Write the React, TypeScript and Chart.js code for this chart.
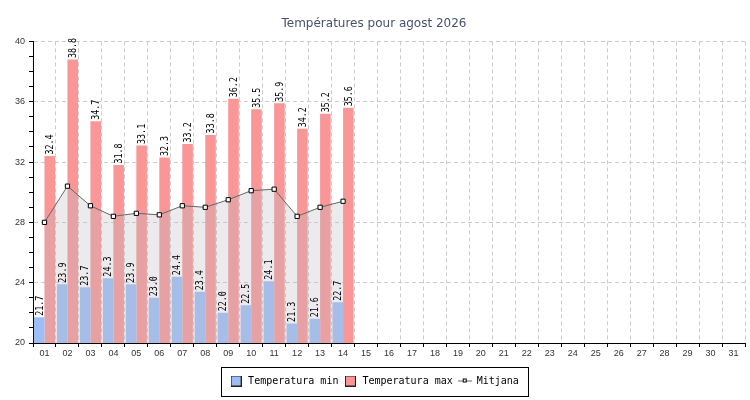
import { useEffect, useRef } from "react";
import { Chart, registerables, Plugin, ChartConfiguration } from "chart.js";

Chart.register(...registerables);

const days = [
  "01", "02", "03", "04", "05", "06", "07", "08", "09", "10", "11",
  "12", "13", "14", "15", "16", "17", "18", "19", "20", "21", "22",
  "23", "24", "25", "26", "27", "28", "29", "30", "31",
];
const minTemps = [21.7, 23.9, 23.7, 24.3, 23.9, 23.0, 24.4, 23.4, 22.0, 22.5, 24.1, 21.3, 21.6, 22.7];
const maxTemps = [32.4, 38.8, 34.7, 31.8, 33.1, 32.3, 33.2, 33.8, 36.2, 35.5, 35.9, 34.2, 35.2, 35.6];
const meanTemps = [28.0, 30.4, 29.1, 28.4, 28.6, 28.5, 29.1, 29.0, 29.5, 30.1, 30.2, 28.4, 29.0, 29.4];
const yMajorTicks = [20, 24, 28, 32, 36, 40];

const BLUE = "#9dbdf7";
const RED = "#fa9696";

// vertical value text above every bar
const barValues: Plugin = {
  id: "barValues",
  afterDatasetsDraw(chart) {
    const ctx = chart.ctx;
    ctx.save();
    ctx.font = "11px 'DejaVu Sans Mono'";
    ctx.fillStyle = "#000";
    ctx.textAlign = "left";
    ctx.textBaseline = "middle";
    chart.data.datasets.forEach((ds, di) => {
      if (ds.type !== "bar") return;
      const meta = chart.getDatasetMeta(di);
      meta.data.forEach((el: any, i) => {
        const v = ds.data[i] as number | null;
        if (v == null) return;
        ctx.save();
        ctx.translate(el.x + 0.5, el.y - 1.5);
        ctx.rotate(-Math.PI / 2);
        ctx.scale(0.76, 1);
        ctx.fillText(v.toFixed(1), 0, 0);
        ctx.restore();
      });
    });
    ctx.restore();
  },
};

// black frame around the legend items
const legendFrame: Plugin = {
  id: "legendFrame",
  afterDraw(chart) {
    const boxes = (chart.legend as any)?.legendHitBoxes as
      | { left: number; top: number; width: number; height: number }[]
      | undefined;
    if (!boxes || !boxes.length) return;
    const left = Math.min(...boxes.map((b) => b.left)) - 8;
    const right = Math.max(...boxes.map((b) => b.left + b.width)) + 9;
    const top = boxes[0].top - 9;
    const bottom = boxes[0].top + boxes[0].height + 10;
    const ctx = chart.ctx;
    ctx.save();
    ctx.strokeStyle = "#000";
    ctx.lineWidth = 1;
    ctx.strokeRect(Math.round(left) + 0.5, Math.round(top) + 0.5, Math.round(right - left), Math.round(bottom - top));
    ctx.restore();
  },
};

function swatch(fill: string) {
  const c = document.createElement("canvas");
  c.width = 11;
  c.height = 11;
  const g = c.getContext("2d")!;
  g.fillStyle = fill;
  g.fillRect(0, 0, 11, 11);
  g.strokeStyle = "#222";
  g.lineWidth = 1;
  g.strokeRect(0.5, 0.5, 10, 10);
  return c;
}

function lineMark() {
  const c = document.createElement("canvas");
  c.width = 14;
  c.height = 11;
  const g = c.getContext("2d")!;
  g.strokeStyle = "#666";
  g.lineWidth = 1;
  g.beginPath();
  g.moveTo(0, 5.5);
  g.lineTo(14, 5.5);
  g.stroke();
  g.fillStyle = "#fff";
  g.fillRect(5, 3, 4, 4);
  g.strokeStyle = "#000";
  g.strokeRect(5.5, 3.5, 3, 3);
  return c;
}

export default function App() {
  const canvasRef = useRef<HTMLCanvasElement | null>(null);
  const chartRef = useRef<Chart | null>(null);

  useEffect(() => {
    document.body.style.margin = "0";
    const canvas = canvasRef.current;
    if (!canvas) return;
    if (chartRef.current) chartRef.current.destroy();

    const marks = [swatch(BLUE), swatch(RED), lineMark()];

    const config: ChartConfiguration = {
      type: "bar",
      data: {
        labels: days,
        datasets: [
          {
            type: "bar",
            label: "Temperatura min",
            data: minTemps,
            backgroundColor: BLUE,
            borderWidth: 0,
            categoryPercentage: 0.92,
            barPercentage: 1,
            order: 1,
          },
          {
            type: "bar",
            label: "Temperatura max",
            data: maxTemps,
            backgroundColor: RED,
            borderWidth: 0,
            categoryPercentage: 0.92,
            barPercentage: 1,
            order: 1,
          },
          {
            type: "line",
            label: "Mitjana",
            data: meanTemps,
            borderColor: "#666",
            borderWidth: 1,
            backgroundColor: "rgba(190,190,195,0.3)",
            fill: "start",
            tension: 0,
            pointStyle: "rect",
            pointRadius: 3,
            pointBorderWidth: 1,
            pointBorderColor: "#000",
            pointBackgroundColor: "#fff",
            order: 0,
          },
        ],
      },
      options: {
        animation: false,
        responsive: true,
        maintainAspectRatio: false,
        layout: { padding: { left: 0, right: 2, top: 0, bottom: 4 } },
        scales: {
          x: {
            offset: true,
            grid: {
              offset: true,
              color: "#cccccc",
              tickColor: "#000",
              tickLength: 4,
            },
            border: { color: "#000", dash: [4, 3] },
            ticks: {
              color: "#333",
              font: { family: "'Liberation Sans'", size: 9 },
              padding: 1,
              maxRotation: 0,
              autoSkip: false,
            },
            afterFit: (scale) => {
              scale.height = 28;
            },
          },
          y: {
            min: 20,
            max: 40,
            grid: {
              color: (c) => (yMajorTicks.includes(c.tick?.value) ? "#cccccc" : "rgba(0,0,0,0)"),
              tickColor: "#000",
              tickLength: 4,
            },
            border: { color: "#000", dash: [4, 3] },
            ticks: {
              stepSize: 1,
              autoSkip: false,
              color: "#333",
              font: { family: "'Liberation Sans'", size: 9 },
              padding: 4,
              callback: (v) => (yMajorTicks.includes(Number(v)) ? String(v) : ""),
            },
            afterFit: (scale) => {
              scale.width = 33;
            },
          },
        },
        plugins: {
          title: {
            display: true,
            text: "Températures pour agost 2026",
            color: "#4a5070",
            font: { family: "'DejaVu Sans'", size: 12, weight: "normal" },
            padding: { top: 17, bottom: 10 },
          },
          legend: {
            position: "bottom",
            labels: {
              usePointStyle: true,
              pointStyleWidth: 14,
              padding: 5,
              color: "#000",
              font: { family: "'DejaVu Sans Mono'", size: 10 },
              generateLabels: (chart) =>
                chart.data.datasets.map((ds, i) => ({
                  text: ds.label as string,
                  pointStyle: marks[i] as any,
                  fillStyle: "rgba(0,0,0,0)",
                  strokeStyle: "rgba(0,0,0,0)",
                  lineWidth: 0,
                  datasetIndex: i,
                  hidden: false,
                })),
            },
          },
          tooltip: { enabled: false },
        },
      },
      plugins: [barValues, legendFrame],
    };

    chartRef.current = new Chart(canvas, config);

    return () => {
      if (chartRef.current) {
        chartRef.current.destroy();
        chartRef.current = null;
      }
    };
  }, []);

  return (
    <div style={{ width: 750, height: 400, position: "relative" }}>
      <canvas ref={canvasRef} />
    </div>
  );
}
